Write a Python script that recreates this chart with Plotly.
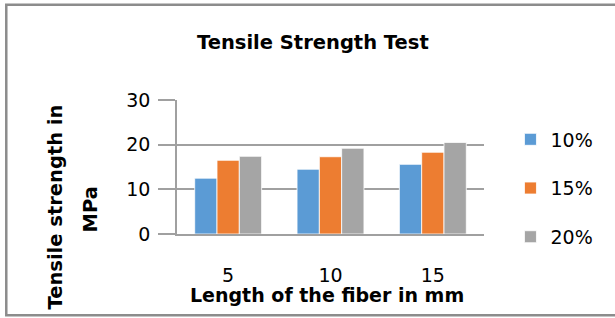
import plotly.graph_objects as go

categories = ["5", "10", "15"]
series_names = ["10%", "15%", "20%"]
values_10 = [12.5, 14.5, 15.6]
values_15 = [16.5, 17.3, 18.3]
values_20 = [17.4, 19.2, 20.5]
colors = ["#5B9BD5", "#ED7D31", "#A5A5A5"]

W, H = 615, 318
L, R, T, B = 177, 484.5, 99.5, 233.7

def px(x):
    return (x - L) / (R - L)

def py(y):
    return (B - y) / (B - T)

FONT = "DejaVu Sans"

fig = go.Figure()
for name, vals, col in zip(series_names, [values_10, values_15, values_20], colors):
    fig.add_trace(go.Bar(x=categories, y=vals, name=name, legendgroup=name,
                         marker=dict(color=col, line=dict(color="white", width=0.8))))

fig.update_layout(
    width=W, height=H,
    margin=dict(l=L, r=W - R, t=T, b=H - B, pad=0),
    paper_bgcolor="white", plot_bgcolor="white",
    barmode="group", bargap=0.346, bargroupgap=0,
    font=dict(family=FONT, color="#000000", size=19),
    showlegend=True,
    legend=dict(x=px(511), y=py(120), xanchor="left", yanchor="top",
                font=dict(size=19, family=FONT), tracegroupgap=21,
                maxheight=300, bgcolor="rgba(0,0,0,0)"),
)
fig.update_yaxes(range=[0, 30], tickvals=[0, 10, 20, 30], showgrid=True,
                 gridcolor="#A0A0A0", gridwidth=1.5, zeroline=False,
                 showline=True, linecolor="#A0A0A0", linewidth=1.5,
                 ticks="outside", ticklen=17, tickcolor="#A0A0A0", tickwidth=1.5,
                 ticklabelstandoff=4, tickfont=dict(size=19))
fig.update_xaxes(showgrid=False, showline=True, linecolor="#A0A0A0", linewidth=1.5,
                 ticks="", ticklabelstandoff=23, tickfont=dict(size=19))

def label(text, x, y, size=19.5, angle=0):
    fig.add_annotation(text=text, x=px(x), y=py(y), xref="paper", yref="paper",
                       xanchor="center", yanchor="middle", showarrow=False,
                       textangle=angle, font=dict(size=size, family=FONT))

label("<b>Tensile Strength Test</b>", 313, 42)
label("<b>Length of the fiber in mm</b>", 327, 295, size=19)
label("<b>Tensile strength in</b>", 55, 207, angle=-90)
label("<b>MPa</b>", 90, 209, angle=-90)

fig.add_shape(type="rect", xref="paper", yref="paper",
              x0=px(6), x1=px(640), y0=py(4), y1=py(315),
              line=dict(color="#8C8C8C", width=2.5), fillcolor="rgba(0,0,0,0)",
              layer="below")

fig.write_html("out.html", config={"displayModeBar": False},
               post_script="document.body.style.margin='0';")
